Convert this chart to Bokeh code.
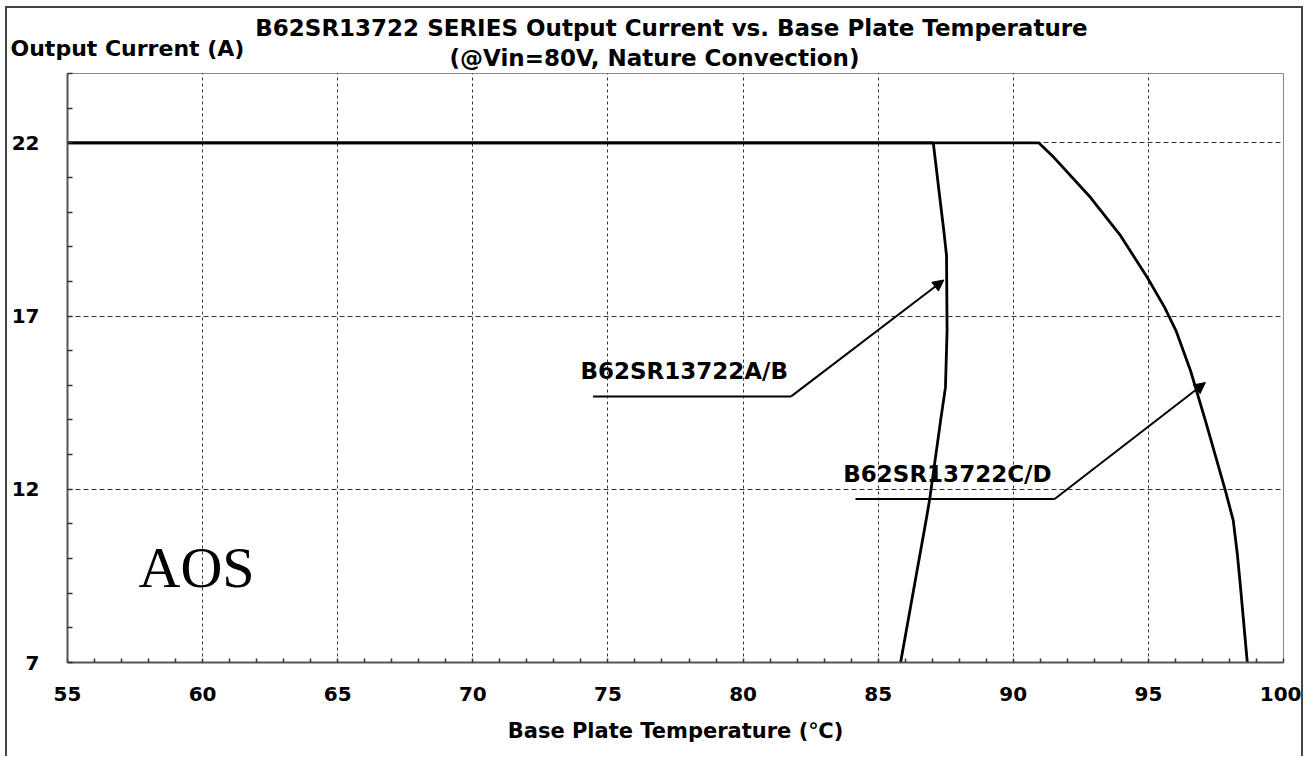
from bokeh.plotting import figure
from bokeh.models import Range1d, FixedTicker, Label, Arrow, NormalHead, Title
from bokeh.embed import file_html
from bokeh.resources import INLINE

# ---- data ----
title_line1 = "B62SR13722 SERIES  Output Current vs. Base Plate Temperature"
title_line2 = "(@Vin=80V, Nature Convection)"
y_title = "Output Current (A)"
x_title = "Base Plate Temperature (\u2103)"

x_ticks = [55, 60, 65, 70, 75, 80, 85, 90, 95, 100]
x_minor_ticks = list(range(55, 101))
y_ticks = [7, 12, 17, 22]
y_minor_ticks = list(range(7, 25))

ab_name = "B62SR13722A/B"
ab_temp = [55, 87.04, 87.28, 87.43, 87.53, 87.55, 87.49, 87.31, 86.91, 86.79, 85.83]
ab_current = [22, 22, 20.42, 19.46, 18.74, 16.58, 14.94, 13.98, 11.73, 11.18, 7.0]

cd_name = "B62SR13722C/D"
cd_temp = [55, 90.94, 91.50, 92.86, 93.97, 94.96, 95.60, 96.02, 96.56, 97.11,
           97.85, 98.14, 98.29, 98.41, 98.66]
cd_current = [22, 22, 21.58, 20.42, 19.32, 18.11, 17.25, 16.58, 15.42, 13.98,
              11.96, 11.10, 10.14, 9.17, 7.0]

# leader lines (label callouts): [start, corner, arrow tip]
ab_leader_temp = [74.45, 81.78, 87.43]
ab_leader_current = [14.68, 14.68, 18.04]
cd_leader_temp = [84.16, 91.53, 97.11]
cd_leader_current = [11.72, 11.72, 15.08]

FONT = "DejaVu Sans"

p = figure(width=1298, height=750, output_backend="svg", toolbar_location=None,
           x_range=Range1d(55, 100), y_range=Range1d(7, 24),
           min_border_left=60, min_border_right=22, min_border_top=65, min_border_bottom=96)
p.styles = {"border-left": "2px solid #444", "border-top": "2px solid #444",
            "border-right": "2px solid #444", "margin-left": "5px", "margin-top": "6px"}

# texts above the frame, stacked outward from the frame
p.add_layout(Title(text=title_line2, align="left", offset=382,
                   text_font=FONT, text_font_style="bold", text_font_size="23px",
                   text_color="black", standoff=5), "above")
p.add_layout(Title(text=y_title, align="left", offset=-57,
                   text_font=FONT, text_font_style="bold", text_font_size="22px",
                   text_color="black", standoff=-40), "above")
p.add_layout(Title(text=title_line1, align="center",
                   text_font=FONT, text_font_style="bold", text_font_size="23px",
                   text_color="black", standoff=0), "above")

p.outline_line_color = "#888888"
p.outline_line_width = 1
p.background_fill_color = "white"
p.border_fill_color = "white"

# axes
for ax in (p.xaxis, p.yaxis):
    ax.major_tick_in = 0
    ax.major_tick_out = 0
    ax.minor_tick_out = 0
    ax.axis_line_color = "#555555"
    ax.axis_line_width = 2
    ax.minor_tick_line_color = "#333333"
    ax.minor_tick_line_width = 1.5
    ax.major_label_text_font = FONT
    ax.major_label_text_font_style = "bold"
    ax.major_label_text_font_size = "20px"
    ax.major_label_text_color = "black"

p.xaxis.ticker = FixedTicker(ticks=x_ticks, minor_ticks=x_minor_ticks)
p.yaxis.ticker = FixedTicker(ticks=y_ticks, minor_ticks=y_minor_ticks)
p.xaxis.minor_tick_in = 4
p.yaxis.minor_tick_in = 5
p.xaxis.major_label_standoff = 24
p.yaxis.major_label_standoff = 28

p.xaxis.axis_label = x_title
p.xaxis.axis_label_text_font = FONT
p.xaxis.axis_label_text_font_style = "bold"
p.xaxis.axis_label_text_font_size = "21px"
p.xaxis.axis_label_text_color = "black"
p.xaxis.axis_label_standoff = 15

# grid
p.xgrid.grid_line_color = "#333333"
p.xgrid.grid_line_dash = "3 3"
p.xgrid.grid_line_width = 1
p.ygrid.grid_line_color = "#333333"
p.ygrid.grid_line_dash = "5 3"
p.ygrid.grid_line_width = 1

# curves
p.line(cd_temp, cd_current, line_color="black", line_width=2.8)
p.line(ab_temp, ab_current, line_color="black", line_width=2.8)

# callouts
p.line(ab_leader_temp[:2], ab_leader_current[:2], line_color="black", line_width=2)
p.add_layout(Arrow(end=NormalHead(size=11, fill_color="black", line_color="black"),
                   x_start=ab_leader_temp[1], y_start=ab_leader_current[1],
                   x_end=ab_leader_temp[2], y_end=ab_leader_current[2],
                   line_color="black", line_width=2))
p.line(cd_leader_temp[:2], cd_leader_current[:2], line_color="black", line_width=2)
p.add_layout(Arrow(end=NormalHead(size=11, fill_color="black", line_color="black"),
                   x_start=cd_leader_temp[1], y_start=cd_leader_current[1],
                   x_end=cd_leader_temp[2], y_end=cd_leader_current[2],
                   line_color="black", line_width=2))

p.add_layout(Label(x=73.98, y=15.42, text=ab_name, text_font=FONT, text_font_style="bold",
                   text_font_size="23px", text_color="black", text_baseline="middle"))
p.add_layout(Label(x=83.71, y=12.45, text=cd_name, text_font=FONT, text_font_style="bold",
                   text_font_size="23px", text_color="black", text_baseline="middle"))

# watermark
p.add_layout(Label(x=57.63, y=9.74, text="AOS", text_font="Liberation Serif",
                   text_font_size="58px", text_color="black", text_baseline="middle"))

open("out.html", "w").write(file_html(p, INLINE))
